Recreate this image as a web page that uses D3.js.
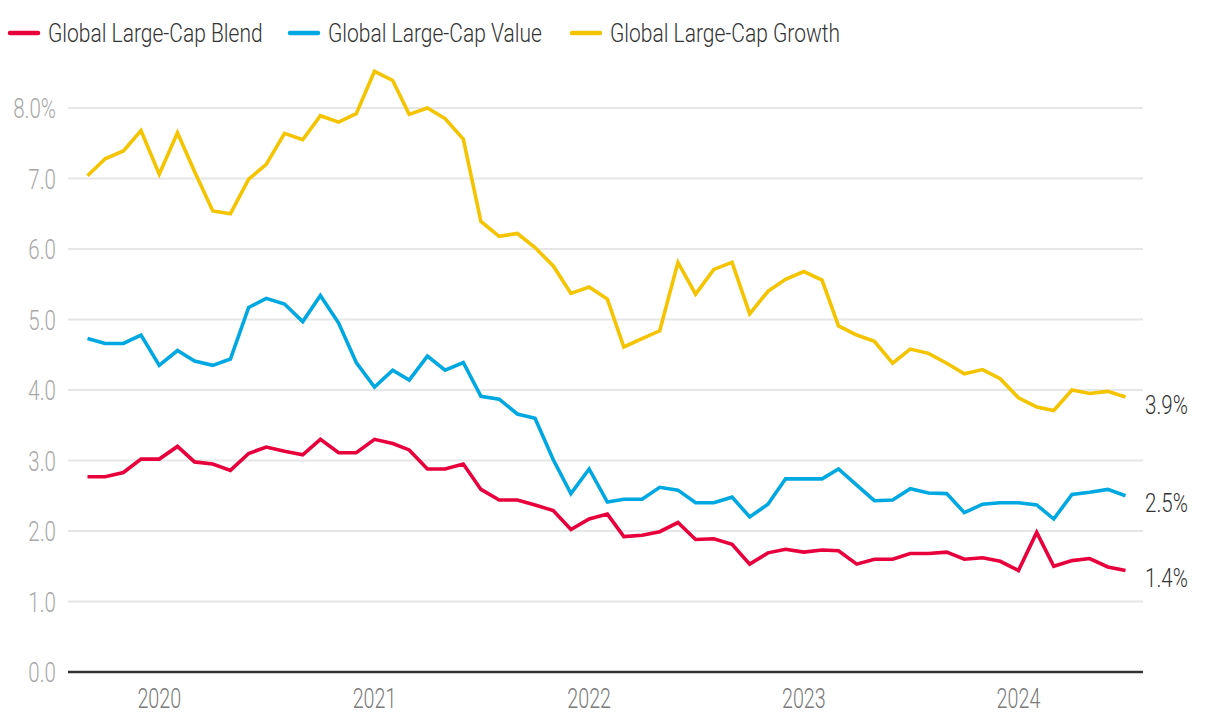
<!DOCTYPE html>
<html>
<head>
<meta charset="utf-8">
<script src="https://cdn.jsdelivr.net/npm/d3@7"></script>
<style>
  html, body { margin: 0; padding: 0; background: #fff; }
  svg { display: block; }
  text { font-family: "Roboto", "Liberation Sans Narrow", "DejaVu Sans Condensed", sans-serif; font-weight: 300; }
</style>
</head>
<body>
<svg id="chart" width="1220" height="726"></svg>
<script>
// ---- Data ----
const seriesNames = ["Global Large-Cap Blend", "Global Large-Cap Value", "Global Large-Cap Growth"];
const seriesColors = ["#e8003d", "#00a8e1", "#f5c400"];
const startMonth = "2019-09";
const endMonth = "2024-07";

const blend = [2.77, 2.77, 2.83, 3.02, 3.02, 3.20, 2.98, 2.95, 2.86, 3.10,
  3.19, 3.13, 3.08, 3.30, 3.11, 3.11, 3.30, 3.24, 3.15, 2.88,
  2.88, 2.95, 2.59, 2.44, 2.44, 2.37, 2.29, 2.02, 2.17, 2.24,
  1.92, 1.94, 1.99, 2.12, 1.88, 1.89, 1.81, 1.53, 1.69, 1.74,
  1.70, 1.73, 1.72, 1.53, 1.60, 1.60, 1.68, 1.68, 1.70, 1.60,
  1.62, 1.57, 1.44, 1.98, 1.50, 1.58, 1.61, 1.49, 1.44];

const value = [4.73, 4.66, 4.66, 4.78, 4.35, 4.56, 4.41, 4.35, 4.44, 5.17,
  5.30, 5.22, 4.97, 5.34, 4.95, 4.39, 4.04, 4.28, 4.14, 4.48,
  4.28, 4.39, 3.91, 3.87, 3.66, 3.60, 3.01, 2.53, 2.88, 2.41,
  2.45, 2.45, 2.62, 2.58, 2.40, 2.40, 2.48, 2.20, 2.38, 2.74,
  2.74, 2.74, 2.88, 2.65, 2.43, 2.44, 2.60, 2.54, 2.53, 2.26,
  2.38, 2.40, 2.40, 2.37, 2.17, 2.52, 2.55, 2.59, 2.50];

const growth = [7.04, 7.28, 7.39, 7.68, 7.06, 7.65, 7.10, 6.54, 6.50, 6.99,
  7.20, 7.64, 7.55, 7.89, 7.80, 7.92, 8.52, 8.39, 7.91, 8.00,
  7.85, 7.56, 6.39, 6.18, 6.22, 6.02, 5.76, 5.37, 5.46, 5.29,
  4.61, 4.73, 4.84, 5.81, 5.36, 5.71, 5.81, 5.08, 5.40, 5.57,
  5.68, 5.56, 4.91, 4.78, 4.69, 4.38, 4.58, 4.52, 4.38, 4.23,
  4.29, 4.16, 3.89, 3.76, 3.71, 4.00, 3.95, 3.98, 3.90];

const endLabels = ["1.4%", "2.5%", "3.9%"];
const yTicks = [0, 1, 2, 3, 4, 5, 6, 7, 8];
const yTickLabels = ["0.0", "1.0", "2.0", "3.0", "4.0", "5.0", "6.0", "7.0", "8.0%"];

// ---- Setup ----
const parseM = d3.timeParse("%Y-%m");
const months = d3.timeMonth.range(parseM(startMonth), d3.timeMonth.offset(parseM(endMonth), 1));
const allSeries = [blend, value, growth];

const svg = d3.select("#chart");
const gridX0 = 68, gridX1 = 1143;

const x = d3.scaleTime()
  .domain([months[0], months[months.length - 1]])
  .range([87.5, 1125.5]);
const y = d3.scaleLinear().domain([0, 8]).range([672, 108]);

// Gridlines
svg.append("g").selectAll("line")
  .data(yTicks.filter(d => d !== 0))
  .join("line")
  .attr("x1", gridX0).attr("x2", gridX1)
  .attr("y1", d => y(d)).attr("y2", d => y(d))
  .attr("stroke", "#e6e6e6").attr("stroke-width", 2);

// Y tick labels
svg.append("g").selectAll("text")
  .data(yTicks)
  .join("text")
  .attr("transform", d => `translate(56,${y(d) + 10}) scale(0.76,1)`)
  .attr("text-anchor", "end")
  .attr("font-size", 27)
  .attr("fill", "#a8a8a8")
  .text((d, i) => yTickLabels[i]);

// X axis labels (years)
const yearTicks = x.ticks(d3.timeYear.every(1));
svg.append("g").selectAll("text")
  .data(yearTicks)
  .join("text")
  .attr("transform", d => `translate(${x(d)},708) scale(0.73,1)`)
  .attr("text-anchor", "middle")
  .attr("font-size", 27)
  .attr("fill", "#7a7a7a")
  .text(d => d3.timeFormat("%Y")(d));

// Lines
const line = d3.line()
  .x((d, i) => x(months[i]))
  .y(d => y(d));

svg.append("g").selectAll("path")
  .data(allSeries)
  .join("path")
  .attr("d", d => line(d))
  .attr("fill", "none")
  .attr("stroke", (d, i) => seriesColors[i])
  .attr("stroke-width", 3.6)
  .attr("stroke-linejoin", "miter")
  .attr("stroke-linecap", "butt");

// Baseline
svg.append("line")
  .attr("x1", gridX0).attr("x2", gridX1)
  .attr("y1", y(0)).attr("y2", y(0))
  .attr("stroke", "#333").attr("stroke-width", 2.5);

// End labels
svg.append("g").selectAll("text")
  .data(allSeries)
  .join("text")
  .attr("transform", d => `translate(1145,${y(d[d.length - 1]) + 16.5}) scale(0.79,1)`)
  .attr("font-size", 26)
  .attr("fill", "#333")
  .text((d, i) => endLabels[i]);

// Legend
const legendX = [10, 290, 572];
const lg = svg.append("g").selectAll("g")
  .data(seriesNames)
  .join("g")
  .attr("transform", (d, i) => `translate(${legendX[i]},33)`);
lg.append("line")
  .attr("x1", 0).attr("x2", 28)
  .attr("stroke", (d, i) => seriesColors[i])
  .attr("stroke-width", 4.5)
  .attr("stroke-linecap", "round");
lg.append("text")
  .attr("transform", "translate(38,9) scale(0.84,1)")
  .attr("font-size", 25)
  .attr("fill", "#333")
  .text(d => d);
</script>
</body>
</html>
